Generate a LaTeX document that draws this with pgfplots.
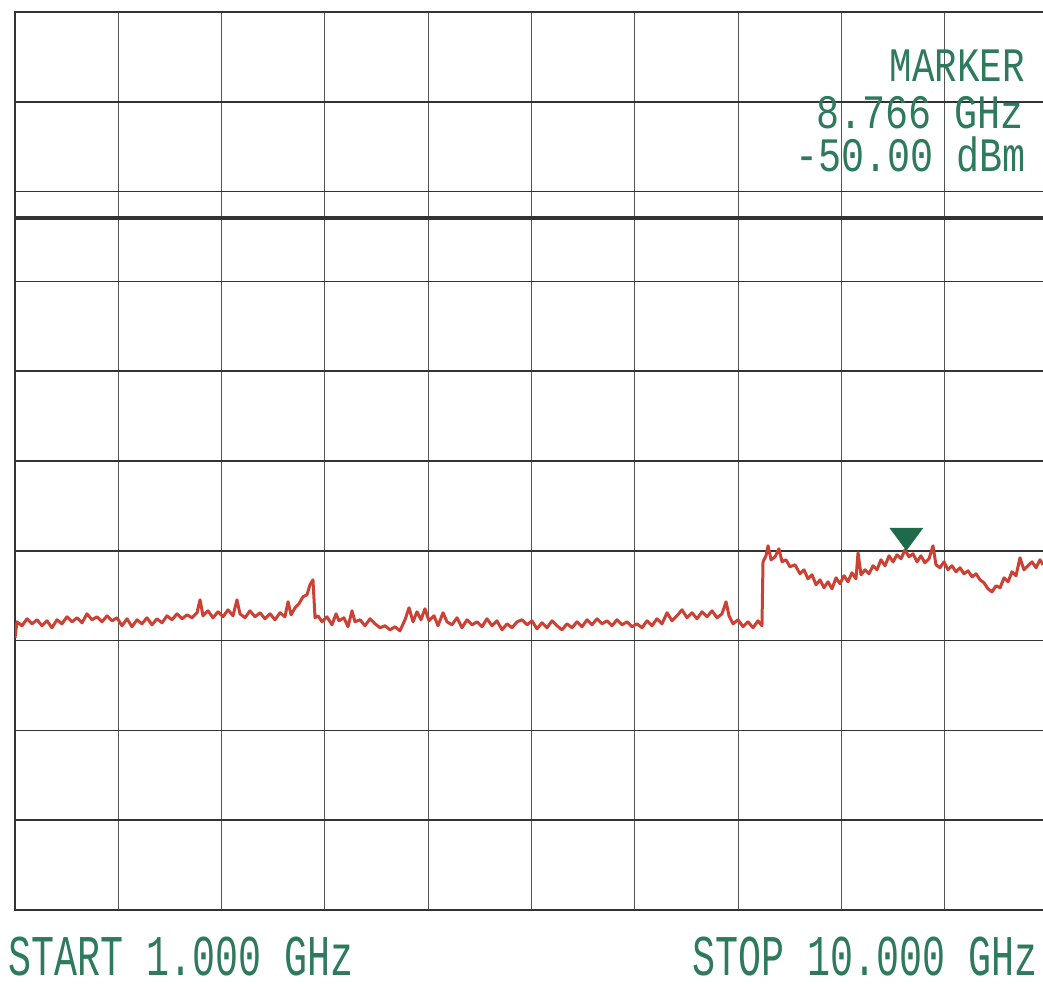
\documentclass[border=0pt]{standalone}
\usepackage{pgfplots}
\pgfplotsset{compat=1.18}
\usepackage{fontspec}
\newfontfamily\lcd{Liberation Mono}
\definecolor{tracered}{HTML}{CC4133}
\definecolor{lcdgreen}{HTML}{2E7A5C}
\definecolor{markgreen}{HTML}{1F6A48}
\definecolor{gridv}{HTML}{555555}
\definecolor{gridh}{HTML}{333333}
\pgfdeclareplotmark{downtri}{%
  \pgfpathmoveto{\pgfpoint{0pt}{0pt}}%
  \pgfpathlineto{\pgfpoint{-8.5pt}{11.5pt}}%
  \pgfpathlineto{\pgfpoint{8.5pt}{11.5pt}}%
  \pgfpathclose\pgfusepathqfill}
\begin{document}
\begin{tikzpicture}
\useasboundingbox (0,0) rectangle (521.5pt,492pt);
\clip (0,0) rectangle (521.5pt,492pt);
\fill[white] (0,0) rectangle (521.5pt,492pt);
\begin{axis}[
  at={(7.5pt,37pt)}, anchor=south west,
  scale only axis, width=516.5pt, height=449pt,
  xmin=1, xmax=10, ymin=-90, ymax=10,
  xtick={1,1.9,2.8,3.7,4.6,5.5,6.4,7.3,8.2,9.1,10},
  ytick={-90,-80,-70,-60,-50,-40,-30,-20,-10,0,10},
  xticklabels={}, yticklabels={},
  major tick length=0pt,
  grid=major,
  x grid style={draw=gridv, line width=0.5pt},
  y grid style={draw=gridh, line width=0.85pt},
  axis line style={draw=gridh, line width=0.85pt},
]
\addplot[gridh, line width=1.7pt, forget plot] coordinates {(1,-12.94) (10,-12.94)};
\addplot[tracered, line width=1.5pt, line join=round, no marks] coordinates {
(1.000,-59.69) (1.017,-57.91) (1.061,-58.35) (1.105,-57.57) (1.148,-58.13) (1.192,-57.68)
(1.235,-58.35) (1.279,-57.80) (1.322,-58.57) (1.366,-57.68) (1.409,-58.13) (1.453,-57.35)
(1.497,-57.91) (1.540,-57.46) (1.584,-58.02) (1.627,-57.02) (1.671,-57.68) (1.714,-57.35)
(1.758,-57.91) (1.802,-57.24) (1.845,-57.80) (1.889,-57.46) (1.932,-58.35) (1.976,-57.57)
(2.019,-58.46) (2.063,-57.68) (2.106,-58.13) (2.150,-57.46) (2.194,-58.24) (2.237,-57.57)
(2.281,-58.02) (2.324,-57.24) (2.368,-57.68) (2.411,-57.02) (2.455,-57.57) (2.499,-57.13)
(2.542,-57.46) (2.586,-56.90) (2.612,-55.46) (2.638,-57.24) (2.682,-56.68) (2.725,-57.46)
(2.769,-56.79) (2.812,-57.35) (2.856,-56.57) (2.899,-57.24) (2.934,-55.46) (2.960,-57.02)
(3.004,-57.46) (3.047,-56.68) (3.091,-57.35) (3.135,-56.90) (3.178,-57.57) (3.222,-57.02)
(3.265,-57.68) (3.309,-56.90) (3.352,-57.35) (3.379,-55.68) (3.405,-57.13) (3.440,-56.35)
(3.474,-55.90) (3.509,-55.12) (3.544,-54.90) (3.570,-53.79) (3.596,-53.23) (3.614,-57.46)
(3.640,-57.24) (3.675,-57.91) (3.718,-57.35) (3.762,-58.24) (3.797,-57.02) (3.823,-57.80)
(3.866,-57.46) (3.901,-58.46) (3.936,-56.68) (3.962,-57.91) (4.006,-57.68) (4.049,-58.35)
(4.093,-57.57) (4.137,-58.13) (4.180,-58.57) (4.224,-58.35) (4.267,-58.80) (4.311,-58.46)
(4.354,-58.91) (4.398,-57.68) (4.433,-56.35) (4.468,-57.91) (4.502,-56.79) (4.537,-57.68)
(4.572,-56.46) (4.607,-57.80) (4.651,-57.24) (4.685,-58.35) (4.729,-56.90) (4.764,-57.91)
(4.807,-58.24) (4.851,-57.46) (4.894,-58.57) (4.938,-57.68) (4.982,-58.24) (5.025,-57.91)
(5.069,-58.46) (5.112,-57.57) (5.156,-58.35) (5.199,-57.80) (5.243,-58.80) (5.287,-58.13)
(5.330,-58.57) (5.374,-57.91) (5.417,-57.68) (5.461,-58.24) (5.504,-57.80) (5.548,-58.69)
(5.591,-58.02) (5.635,-58.57) (5.679,-57.80) (5.722,-58.35) (5.766,-58.80) (5.809,-58.13)
(5.853,-58.57) (5.896,-57.91) (5.940,-58.46) (5.984,-57.68) (6.027,-58.24) (6.071,-57.57)
(6.114,-58.13) (6.158,-57.80) (6.201,-58.35) (6.245,-57.68) (6.288,-58.24) (6.332,-57.91)
(6.376,-58.46) (6.419,-58.13) (6.463,-58.57) (6.506,-57.80) (6.550,-58.35) (6.593,-57.57)
(6.637,-58.13) (6.681,-56.90) (6.724,-57.80) (6.768,-57.24) (6.811,-56.57) (6.855,-57.46)
(6.898,-56.90) (6.942,-57.57) (6.986,-56.79) (7.029,-57.35) (7.073,-56.68) (7.116,-57.46)
(7.160,-57.02) (7.195,-55.68) (7.221,-57.24) (7.256,-58.13) (7.299,-57.68) (7.343,-58.46)
(7.386,-57.91) (7.430,-58.57) (7.473,-57.80) (7.508,-58.35) (7.517,-51.23) (7.543,-50.56)
(7.561,-49.44) (7.587,-51.00) (7.622,-50.67) (7.656,-49.78) (7.683,-51.23) (7.717,-51.00)
(7.752,-51.78) (7.796,-51.56) (7.839,-52.56) (7.874,-52.12) (7.909,-53.12) (7.944,-52.67)
(7.979,-53.79) (8.014,-53.23) (8.048,-54.12) (8.083,-53.45) (8.118,-54.23) (8.153,-53.01)
(8.188,-53.67) (8.223,-52.78) (8.257,-53.45) (8.292,-52.45) (8.327,-53.12) (8.345,-50.22)
(8.371,-52.67) (8.406,-52.12) (8.441,-52.56) (8.475,-51.67) (8.510,-52.12) (8.545,-51.00)
(8.580,-51.67) (8.615,-50.56) (8.650,-51.23) (8.684,-50.45) (8.719,-50.89) (8.754,-49.89)
(8.789,-50.67) (8.824,-50.33) (8.859,-51.23) (8.893,-50.56) (8.928,-51.34) (8.963,-50.89)
(8.998,-49.44) (9.024,-51.56) (9.059,-51.89) (9.094,-51.23) (9.129,-52.12) (9.164,-51.67)
(9.198,-52.34) (9.233,-51.89) (9.268,-52.56) (9.303,-52.23) (9.338,-52.90) (9.373,-52.56)
(9.408,-53.23) (9.442,-53.56) (9.477,-54.23) (9.512,-54.57) (9.547,-53.90) (9.582,-54.12)
(9.617,-53.01) (9.652,-53.45) (9.686,-52.34) (9.721,-52.78) (9.756,-50.78) (9.791,-52.12)
(9.826,-51.67) (9.861,-51.23) (9.896,-51.89) (9.930,-51.00) (9.957,-51.56)
};
\addplot[only marks, mark=downtri, color=markgreen] coordinates {(8.766,-50.00)};
\end{axis}
\node[anchor=base west, inner sep=0pt, text=lcdgreen] at (4pt,4pt)
  {\scalebox{0.665}[1]{\lcd\fontsize{28.8}{30}\selectfont START 1.000 GHz}};
\node[anchor=base west, inner sep=0pt, text=lcdgreen] at (346pt,4pt)
  {\scalebox{0.665}[1]{\lcd\fontsize{28.8}{30}\selectfont STOP 10.000 GHz}};
\node[anchor=base east, inner sep=0pt, text=lcdgreen] at (512.5pt,451pt)
  {\scalebox{0.78}[1]{\lcd\fontsize{24}{25}\selectfont MARKER}};
\node[anchor=base east, inner sep=0pt, text=lcdgreen] at (512pt,427.5pt)
  {\scalebox{0.8}[1]{\lcd\fontsize{24}{25}\selectfont 8.766 GHz}};
\node[anchor=base east, inner sep=0pt, text=lcdgreen] at (513pt,406pt)
  {\scalebox{0.8}[1]{\lcd\fontsize{24}{25}\selectfont -50.00 dBm}};
\end{tikzpicture}
\end{document}
